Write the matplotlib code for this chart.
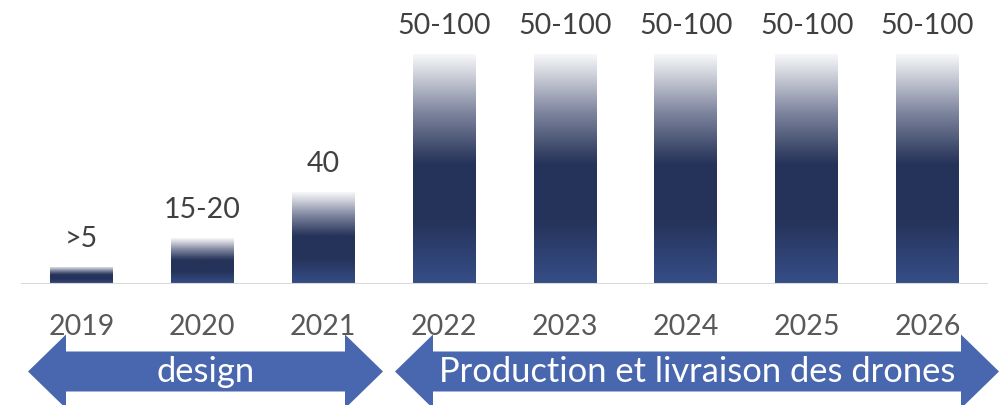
import matplotlib
matplotlib.use("Agg")
import matplotlib.pyplot as plt
import numpy as np
from matplotlib.colors import LinearSegmentedColormap
from matplotlib.patches import Polygon

# ---- data ----
years = ["2019", "2020", "2021", "2022", "2023", "2024", "2025", "2026"]
values = [7.5, 20, 40, 100, 100, 100, 100, 100]
value_labels = [">5", "15-20", "40", "50-100", "50-100", "50-100", "50-100", "50-100"]
phase_names = ["design", "Production et livraison des drones"]

FONT = ["Lato", "DejaVu Sans"]
plt.rcParams["font.family"] = FONT

W, H = 1002, 405
fig = plt.figure(figsize=(W / 100, H / 100), dpi=100)
fig.patch.set_facecolor("white")

base_px = 284
ax = fig.add_axes([21 / W, (H - base_px) / H, 967 / W, base_px / H])
ymax = base_px / 2.30
ax.set_xlim(-0.5, len(years) - 0.5)
ax.set_ylim(0, ymax)

# gradient colormap: bottom (0) -> top (1)
cmap = LinearSegmentedColormap.from_list(
    "bar",
    [
        (0.00, "#364e87"),
        (0.28, "#25335a"),
        (0.52, "#25335a"),
        (0.58, "#3b4769"),
        (0.75, "#7f869f"),
        (0.90, "#c9ccd6"),
        (1.00, "#f8f8fa"),
    ],
)
grad = np.linspace(0, 1, 256).reshape(-1, 1)

x = np.arange(len(years))
bars = ax.bar(x, values, width=0.52, color="none", edgecolor="none")
for b in bars:
    x0, w, h = b.get_x(), b.get_width(), b.get_height()
    im = ax.imshow(grad, cmap=cmap, origin="lower", aspect="auto",
                   extent=(x0, x0 + w, 0, h), interpolation="bicubic", zorder=2)
    im.set_clip_path(b)
ax.set_xlim(-0.5, len(years) - 0.5)
ax.set_ylim(0, ymax)

for xi, v, lab in zip(x, values, value_labels):
    ax.annotate(lab, (xi, v), xytext=(0, 14.5), textcoords="offset points",
                ha="center", va="baseline", fontsize=20.5, color="#404040")

ax.axhline(0, color="#d9d9d9", lw=1.5, zorder=3)
for s in ax.spines.values():
    s.set_visible(False)
ax.set_yticks([])
ax.set_xticks(x)
ax.set_xticklabels(years, fontsize=20.5, color="#595959")
ax.tick_params(axis="x", length=0, pad=21.5)
ax.patch.set_alpha(0)

# ---- phase arrows (overlay in pixel coordinates) ----
ov = fig.add_axes([0, 0, 1, 1], zorder=5)
ov.set_xlim(0, W)
ov.set_ylim(H, 0)
ov.axis("off")
ov.patch.set_alpha(0)

arrow_color = "#4967ae"
yc, body_h, head_h, head_l = 371.5, 20, 37, 38
spans = [(28, 383), (395, 999)]
for (xl, xr), name in zip(spans, phase_names):
    pts = [
        (xl, yc),
        (xl + head_l, yc - head_h),
        (xl + head_l, yc - body_h),
        (xr - head_l, yc - body_h),
        (xr - head_l, yc - head_h),
        (xr, yc),
        (xr - head_l, yc + head_h),
        (xr - head_l, yc + body_h),
        (xl + head_l, yc + body_h),
        (xl + head_l, yc + head_h),
    ]
    ov.add_patch(Polygon(pts, closed=True, facecolor=arrow_color, edgecolor="none"))
    ov.text((xl + xr) / 2, yc + 1, name, ha="center", va="center",
            fontsize=24.8, color="white")

fig.savefig("out.png", dpi=100, facecolor="white")
